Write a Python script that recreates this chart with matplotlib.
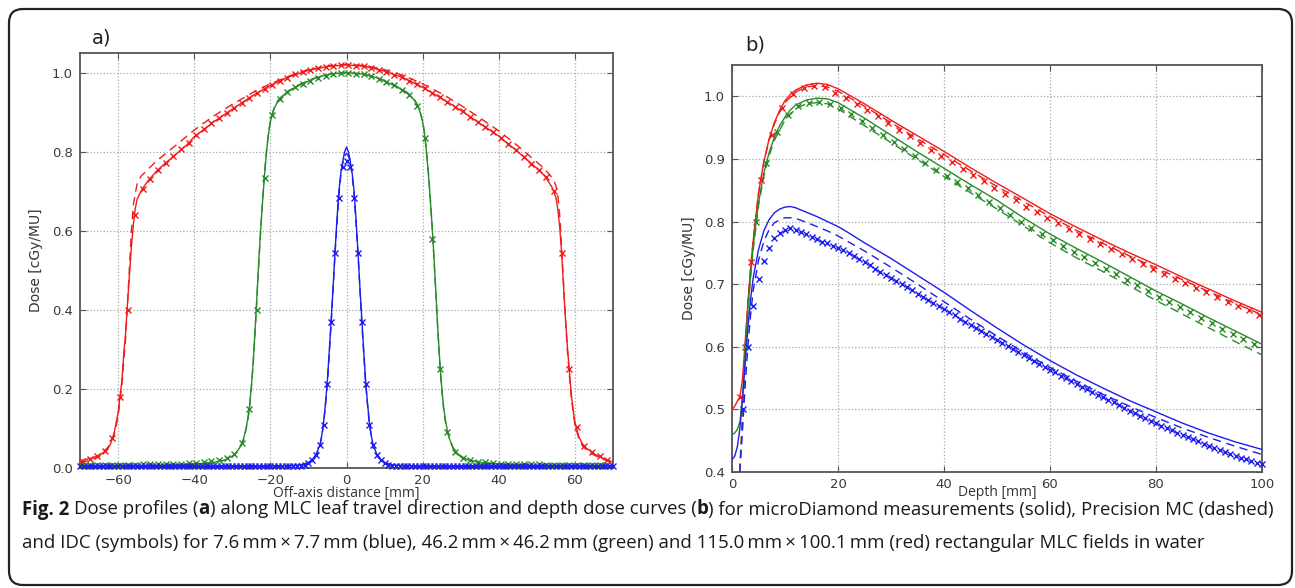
import numpy as np
import matplotlib
matplotlib.use('Agg')
import matplotlib.pyplot as plt
from matplotlib import font_manager
from matplotlib.patches import FancyBboxPatch
from matplotlib.transforms import IdentityTransform

# ---------------- data: panel a (off-axis profiles) ----------------
red_a_x = [-70, -67, -65, -63, -62, -61, -60, -59, -58.5, -58,
           -57.5, -57, -56.5, -56, -55.5, -55, -54, -53, -52, -50,
           -48, -45, -42, -40, -35, -30, -25, -20, -15, -10,
           -5, 0, 5, 10, 15, 20, 25, 30, 35, 40,
           45, 48, 50, 52, 54, 55, 55.5, 56, 56.5, 57,
           57.5, 58, 58.5, 59, 59.5, 60, 61, 62, 63, 65,
           67, 70]
red_a_solid = [0.018, 0.025, 0.032, 0.045, 0.06, 0.09, 0.14, 0.22, 0.29, 0.345,
               0.42, 0.49, 0.56, 0.615, 0.655, 0.68, 0.70, 0.715, 0.728, 0.75,
               0.768, 0.792, 0.817, 0.838, 0.875, 0.908, 0.94, 0.968, 0.99, 1.006,
               1.016, 1.02, 1.016, 1.004, 0.987, 0.963, 0.935, 0.905, 0.872, 0.84,
               0.80, 0.775, 0.758, 0.74, 0.71, 0.685, 0.655, 0.61, 0.545, 0.46,
               0.38, 0.31, 0.25, 0.19, 0.15, 0.115, 0.08, 0.06, 0.05, 0.036,
               0.026, 0.015]
red_a_dx = [-70, -65, -62, -61, -60, -59, -58, -57.5, -57, -56.5,
            -56, -55, -54, -52, -50, -45, -40, -35, -30, -25,
            -20, -15, -10, -5, 0, 5, 10, 15, 20, 25,
            30, 35, 40, 45, 50, 52, 54, 55, 55.5, 56,
            56.5, 57, 57.5, 58, 59, 60, 61, 62, 64, 66,
            70]
red_a_dashed = [0.012, 0.028, 0.06, 0.085, 0.13, 0.21, 0.33, 0.42, 0.51, 0.6,
                0.665, 0.72, 0.738, 0.757, 0.776, 0.815, 0.855, 0.89, 0.92, 0.948,
                0.972, 0.992, 1.008, 1.017, 1.021, 1.018, 1.008, 0.993, 0.972, 0.947,
                0.918, 0.886, 0.853, 0.815, 0.774, 0.757, 0.735, 0.715, 0.69, 0.64,
                0.56, 0.47, 0.38, 0.3, 0.18, 0.11, 0.075, 0.055, 0.038, 0.028,
                0.012]
red_a_mx = np.arange(-69.5, 69, 2.0)
red_a_idc = [0.017, 0.024, 0.030, 0.042, 0.075, 0.18, 0.40, 0.64, 0.705, 0.732,
             0.754, 0.772, 0.789, 0.806, 0.822, 0.842, 0.858, 0.872, 0.885, 0.898,
             0.911, 0.924, 0.937, 0.949, 0.959, 0.97, 0.979, 0.988, 0.996, 1.002,
             1.008, 1.012, 1.015, 1.018, 1.019,
             1.02, 1.018, 1.016, 1.012, 1.007, 1.002, 0.995, 0.989, 0.98, 0.971,
             0.961, 0.95, 0.938, 0.926, 0.914, 0.902, 0.889, 0.876, 0.863, 0.85,
             0.836, 0.82, 0.804, 0.786, 0.77, 0.754, 0.736, 0.70, 0.545, 0.25,
             0.105, 0.056, 0.04, 0.03, 0.02]

green_a_x = [-70, -60, -50, -40, -35, -32, -30, -29, -28, -27,
             -26.5, -26, -25.5, -25, -24.5, -24, -23.5, -23, -22.5, -22,
             -21.5, -21, -20.5, -20, -19.5, -19, -18, -17, -16, -14,
             -12, -10, -8, -6, -4, -2, 0, 2, 4, 6,
             8, 10, 12, 14, 16, 17, 18, 19, 19.5, 20,
             20.5, 21, 21.5, 22, 22.5, 23, 23.5, 24, 24.5, 25,
             25.5, 26, 26.5, 27, 28, 29, 30, 32, 35, 40,
             50, 60, 70]
green_a_solid = [0.005, 0.006, 0.007, 0.01, 0.014, 0.02, 0.03, 0.038, 0.052, 0.075,
                 0.095, 0.12, 0.155, 0.205, 0.27, 0.35, 0.44, 0.53, 0.61, 0.68,
                 0.745, 0.8, 0.845, 0.875, 0.895, 0.91, 0.928, 0.94, 0.948, 0.96,
                 0.97, 0.979, 0.987, 0.993, 0.997, 0.999, 1.0, 0.999, 0.997, 0.993,
                 0.987, 0.979, 0.97, 0.96, 0.948, 0.94, 0.928, 0.91, 0.895, 0.875,
                 0.845, 0.8, 0.745, 0.68, 0.61, 0.53, 0.44, 0.35, 0.27, 0.205,
                 0.155, 0.12, 0.095, 0.075, 0.052, 0.038, 0.03, 0.02, 0.014, 0.01,
                 0.007, 0.006, 0.005]
green_a_dx = [-70, -50, -40, -32, -30, -28, -27, -26, -25.5, -25,
              -24.5, -24, -23.5, -23, -22.5, -22, -21.5, -21, -20.5, -20,
              -19, -18, -16, -12, -8, -4, 0, 4, 8, 12,
              16, 18, 19, 20, 20.5, 21, 21.5, 22, 22.5, 23,
              23.5, 24, 24.5, 25, 25.5, 26, 27, 28, 30, 32,
              40, 50, 70]
green_a_dashed = [0.004, 0.006, 0.009, 0.019, 0.028, 0.05, 0.072, 0.115, 0.15, 0.2,
                  0.265, 0.345, 0.435, 0.525, 0.61, 0.685, 0.75, 0.805, 0.848, 0.878,
                  0.912, 0.93, 0.95, 0.972, 0.988, 0.997, 0.999, 0.997, 0.988, 0.972,
                  0.95, 0.93, 0.912, 0.878, 0.848, 0.805, 0.75, 0.685, 0.61, 0.525,
                  0.435, 0.345, 0.265, 0.2, 0.15, 0.115, 0.072, 0.05, 0.028, 0.019,
                  0.009, 0.006, 0.004]
green_a_mx = np.arange(-69.5, 69, 2.0)
green_a_idc = [0.008, 0.008, 0.008, 0.008, 0.008, 0.008, 0.008, 0.008, 0.009, 0.009,
               0.009, 0.01, 0.01, 0.011, 0.012, 0.013, 0.015, 0.017, 0.02, 0.025,
               0.035, 0.063, 0.15, 0.40, 0.735, 0.892, 0.934, 0.952, 0.963, 0.972,
               0.98, 0.988, 0.993, 0.997, 0.999, 0.999, 0.998, 0.996, 0.991, 0.985,
               0.977, 0.968, 0.957, 0.944, 0.917, 0.834, 0.58, 0.25, 0.09, 0.04,
               0.026, 0.019, 0.016, 0.014, 0.012, 0.011, 0.01, 0.01, 0.009, 0.009,
               0.009, 0.008, 0.008, 0.008, 0.008, 0.008, 0.008, 0.008, 0.008, 0.008]

blue_a_x = [-70, -40, -20, -15, -12, -10, -9, -8, -7, -6.5,
            -6, -5.5, -5, -4.5, -4, -3.5, -3, -2.5, -2, -1.5,
            -1, -0.5, 0, 0.5, 1, 1.5, 2, 2.5, 3, 3.5,
            4, 4.5, 5, 5.5, 6, 6.5, 7, 8, 9, 10,
            12, 15, 20, 40, 70]
blue_a_solid = [0.004, 0.004, 0.005, 0.006, 0.008, 0.014, 0.021, 0.034, 0.058, 0.082,
                0.117, 0.165, 0.225, 0.30, 0.38, 0.46, 0.55, 0.63, 0.70, 0.745,
                0.775, 0.80, 0.812, 0.80, 0.775, 0.745, 0.70, 0.63, 0.55, 0.46,
                0.38, 0.30, 0.225, 0.165, 0.117, 0.082, 0.058, 0.034, 0.021, 0.014,
                0.008, 0.006, 0.005, 0.004, 0.004]
blue_a_dx = [-70, -20, -12, -10, -8, -7, -6, -5, -4, -3,
             -2, -1.5, -1, -0.5, 0, 0.5, 1, 1.5, 2, 3,
             4, 5, 6, 7, 8, 10, 12, 20, 70]
blue_a_dashed = [0.003, 0.004, 0.007, 0.012, 0.03, 0.052, 0.11, 0.215, 0.37, 0.545,
                 0.69, 0.74, 0.77, 0.79, 0.795, 0.79, 0.77, 0.74, 0.69, 0.545,
                 0.37, 0.215, 0.11, 0.052, 0.03, 0.012, 0.007, 0.004, 0.003]
blue_a_mx = np.arange(-70, 71, 1.0)
blue_a_idc = [0.005, 0.005, 0.005, 0.005, 0.005, 0.005, 0.005, 0.005, 0.005, 0.005,
              0.005, 0.005, 0.005, 0.005, 0.005, 0.005, 0.005, 0.005, 0.005, 0.005,
              0.005, 0.005, 0.005, 0.005, 0.005, 0.005, 0.005, 0.005, 0.005, 0.005,
              0.005, 0.005, 0.005, 0.005, 0.005, 0.005, 0.005, 0.005, 0.005, 0.005,
              0.005, 0.005, 0.005, 0.005, 0.005, 0.005, 0.005, 0.005, 0.005, 0.005,
              0.005, 0.005, 0.005, 0.005, 0.005, 0.005, 0.005, 0.005,
              0.006, 0.008, 0.012, 0.019, 0.032, 0.057, 0.11, 0.213, 0.369, 0.544,
              0.682, 0.761, 0.778, 0.761, 0.682, 0.544, 0.369, 0.213, 0.11, 0.057,
              0.032, 0.019, 0.012, 0.008, 0.006,
              0.005, 0.005, 0.005, 0.005, 0.005, 0.005, 0.005, 0.005, 0.005, 0.005,
              0.005, 0.005, 0.005, 0.005, 0.005, 0.005, 0.005, 0.005, 0.005, 0.005,
              0.005, 0.005, 0.005, 0.005, 0.005, 0.005, 0.005, 0.005, 0.005, 0.005,
              0.005, 0.005, 0.005, 0.005, 0.005, 0.005, 0.005, 0.005, 0.005, 0.005,
              0.005, 0.005, 0.005, 0.005, 0.005, 0.005, 0.005, 0.005, 0.005, 0.005,
              0.005, 0.005, 0.005, 0.005, 0.005, 0.005, 0.005, 0.005]

# ---------------- data: panel b (depth dose) ----------------
red_b_x = [0, 0.5, 1, 1.5, 2, 2.5, 3, 3.5, 4, 5,
           6, 7, 8, 9, 10, 11, 12, 14, 16, 18,
           20, 25, 30, 35, 40, 45, 50, 55, 60, 65,
           70, 75, 80, 85, 90, 95, 100]
red_b_solid = [0.50, 0.505, 0.513, 0.52, 0.55, 0.61, 0.67, 0.725, 0.77, 0.845,
               0.895, 0.932, 0.958, 0.978, 0.993, 1.003, 1.01, 1.018, 1.021, 1.019,
               1.012, 0.988, 0.962, 0.937, 0.912, 0.886, 0.861, 0.837, 0.8125, 0.791,
               0.77, 0.75, 0.731, 0.711, 0.692, 0.673, 0.655]
red_b_dx = [1.45, 2, 2.5, 3, 3.5, 4, 5, 6, 7, 8,
            9, 10, 12, 14, 16, 18, 20, 25, 30, 35,
            40, 45, 50, 55, 60, 65, 70, 75, 80, 85,
            90, 95, 100]
red_b_dashed = [0.40, 0.50, 0.60, 0.67, 0.725, 0.77, 0.845, 0.895, 0.93, 0.956,
                0.975, 0.99, 1.007, 1.015, 1.017, 1.015, 1.008, 0.984, 0.958, 0.932,
                0.907, 0.881, 0.856, 0.832, 0.808, 0.786, 0.765, 0.745, 0.726, 0.707,
                0.688, 0.669, 0.651]
red_b_mx = np.arange(1.5, 100, 2.0)
red_b_idc = [0.52, 0.736, 0.866, 0.938, 0.982, 1.004, 1.013, 1.016, 1.015,
             1.006, 0.998, 0.988, 0.978, 0.968, 0.957, 0.946, 0.936, 0.926, 0.915,
             0.905, 0.895, 0.884, 0.874, 0.864, 0.854, 0.844, 0.834, 0.824, 0.815,
             0.806, 0.797, 0.788, 0.78, 0.772, 0.764, 0.756, 0.748, 0.74, 0.732,
             0.725, 0.717, 0.709, 0.702, 0.694, 0.687, 0.68, 0.672, 0.665, 0.658,
             0.65]

green_b_x = [0, 0.5, 1, 1.5, 2, 2.5, 3, 3.5, 4, 5,
             6, 7, 8, 9, 10, 11, 12, 14, 16, 18,
             20, 25, 30, 35, 40, 45, 50, 55, 60, 65,
             70, 75, 80, 85, 90, 95, 100]
green_b_solid = [0.46, 0.462, 0.468, 0.48, 0.52, 0.59, 0.66, 0.715, 0.76, 0.83,
                 0.877, 0.91, 0.935, 0.953, 0.967, 0.978, 0.986, 0.994, 0.997, 0.996,
                 0.99, 0.965, 0.938, 0.911, 0.885, 0.859, 0.834, 0.806, 0.78, 0.757,
                 0.735, 0.712, 0.689, 0.668, 0.646, 0.625, 0.604]
green_b_dx = [1.45, 2, 2.5, 3, 3.5, 4, 5, 6, 7, 8,
              10, 12, 14, 16, 18, 20, 25, 30, 35, 40,
              45, 50, 55, 60, 65, 70, 75, 80, 85, 90,
              95, 100]
green_b_dashed = [0.40, 0.48, 0.58, 0.655, 0.71, 0.755, 0.825, 0.872, 0.905, 0.93,
                  0.962, 0.98, 0.988, 0.99, 0.988, 0.98, 0.953, 0.926, 0.899, 0.872,
                  0.846, 0.82, 0.793, 0.766, 0.742, 0.72, 0.697, 0.674, 0.652, 0.63,
                  0.608, 0.587]
green_b_mx = np.arange(2.5, 99, 2.0)
green_b_idc = [0.60, 0.80, 0.893, 0.943, 0.97, 0.984, 0.99, 0.991, 0.988, 0.981,
               0.971, 0.96, 0.949, 0.938, 0.927, 0.916, 0.905, 0.894, 0.883, 0.873,
               0.863, 0.853, 0.842, 0.832, 0.822, 0.811, 0.8, 0.79, 0.78, 0.77,
               0.761, 0.752, 0.743, 0.734, 0.725, 0.716, 0.707, 0.698, 0.689, 0.68,
               0.672, 0.663, 0.655, 0.646, 0.638, 0.629, 0.621, 0.613, 0.605]

blue_b_x = [0, 0.5, 1, 1.5, 2, 2.5, 3, 3.5, 4, 5,
            6, 7, 8, 9, 10, 11, 12, 14, 16, 18,
            20, 22, 25, 30, 35, 40, 45, 50, 55, 60,
            65, 70, 75, 80, 85, 90, 95, 100]
blue_b_solid = [0.42, 0.425, 0.44, 0.47, 0.52, 0.575, 0.63, 0.675, 0.71, 0.755,
                0.785, 0.803, 0.814, 0.82, 0.823, 0.824, 0.822, 0.815, 0.808, 0.80,
                0.792, 0.782, 0.766, 0.741, 0.714, 0.687, 0.658, 0.63, 0.603, 0.578,
                0.555, 0.534, 0.514, 0.496, 0.478, 0.462, 0.448, 0.436]
blue_b_dx = [1.45, 2, 2.5, 3, 3.5, 4, 5, 6, 7, 8,
             9, 10, 11, 12, 14, 16, 18, 20, 25, 30,
             35, 40, 45, 50, 55, 60, 65, 70, 75, 80,
             85, 90, 95, 100]
blue_b_dashed = [0.40, 0.47, 0.54, 0.60, 0.65, 0.69, 0.738, 0.768, 0.787, 0.798,
                 0.803, 0.806, 0.806, 0.805, 0.799, 0.792, 0.785, 0.777, 0.753, 0.727,
                 0.700, 0.672, 0.644, 0.617, 0.591, 0.567, 0.545, 0.524, 0.505, 0.487,
                 0.47, 0.455, 0.441, 0.428]
blue_b_mx = np.arange(2, 101, 1.0)
blue_b_idc = [0.50, 0.60, 0.665, 0.708, 0.737, 0.758, 0.773, 0.782, 0.787, 0.789,
              0.787, 0.784, 0.780, 0.776, 0.772, 0.768, 0.765, 0.761, 0.758,
              0.754, 0.749, 0.745, 0.740, 0.735, 0.730, 0.725, 0.720, 0.715, 0.710,
              0.705, 0.700, 0.695, 0.690, 0.685, 0.680, 0.675, 0.670, 0.665, 0.660,
              0.655, 0.650, 0.645, 0.640, 0.635, 0.630, 0.625, 0.620, 0.615, 0.611,
              0.606, 0.601, 0.596, 0.591, 0.587, 0.582, 0.577, 0.572, 0.568, 0.563,
              0.559, 0.554, 0.550, 0.545, 0.541, 0.536, 0.532, 0.528, 0.523, 0.519,
              0.515, 0.511, 0.507, 0.502, 0.498, 0.494, 0.490, 0.486, 0.482, 0.478,
              0.474, 0.470, 0.467, 0.463, 0.459, 0.456, 0.452, 0.449, 0.445, 0.442,
              0.439, 0.435, 0.432, 0.429, 0.426, 0.423, 0.420, 0.417, 0.415, 0.412]

a_xticks = [-60, -40, -20, 0, 20, 40, 60]
a_yticks = [0.0, 0.2, 0.4, 0.6, 0.8, 1.0]
b_xticks = [0, 20, 40, 60, 80, 100]
b_yticks = [0.4, 0.5, 0.6, 0.7, 0.8, 0.9, 1.0]

caption_line1 = [("Fig. 2", True, True), ("Dose profiles (", False, False), ("a", True, False),
                 (") along MLC leaf travel direction and depth dose curves (", False, False),
                 ("b", True, False),
                 (") for microDiamond measurements (solid), Precision MC (dashed)", False, False)]
caption_line2 = [("and IDC (symbols) for 7.6\u2009mm\u2009\u00d7\u20097.7\u2009mm (blue), "
                  "46.2\u2009mm\u2009\u00d7\u200946.2\u2009mm (green) and "
                  "115.0\u2009mm\u2009\u00d7\u2009100.1\u2009mm (red) rectangular MLC fields in water",
                  False, False)]

# ---------------- figure ----------------
W, H = 1295, 588
fig = plt.figure(figsize=(W / 100, H / 100), dpi=100)
fig.patch.set_facecolor('white')

avail = {f.name for f in font_manager.fontManager.ttflist}
CAP_FONT = ['Open Sans', 'DejaVu Sans'] if 'Open Sans' in avail else ['DejaVu Sans']

RED, GREEN, BLUE = '#f01c1c', '#2a8a2a', '#1c1cee'
DASH = (0, (6, 4))


def style_axes(ax):
    for s in ax.spines.values():
        s.set_color('#555555')
        s.set_linewidth(1.3)
    ax.tick_params(direction='in', length=4, width=0.8, top=True, right=True,
                   color='#555555', labelcolor='#3a3a3a', labelsize=9.5)
    ax.tick_params(axis='x', pad=4)
    ax.tick_params(axis='y', pad=5)
    ax.grid(True, linestyle=':', color='#a8a8a8', linewidth=0.9)
    ax.set_axisbelow(True)


def draw_series(ax, col, xs, ys, xd, yd, xm, ym, ms):
    ax.plot(xs, ys, '-', color=col, lw=1.0, zorder=3)
    ax.plot(xd, yd, color=col, lw=1.0, linestyle=DASH, zorder=3)
    ax.plot(xm, ym, 'x', color=col, ms=ms, mew=1.0, zorder=4, clip_on=False)


ax_a = fig.add_axes([80 / W, 1 - 468 / H, 533 / W, 415 / H])
style_axes(ax_a)
draw_series(ax_a, RED, red_a_x, red_a_solid, red_a_dx, red_a_dashed, red_a_mx, red_a_idc, 4.5)
draw_series(ax_a, GREEN, green_a_x, green_a_solid, green_a_dx, green_a_dashed, green_a_mx, green_a_idc, 4.5)
draw_series(ax_a, BLUE, blue_a_x, blue_a_solid, blue_a_dx, blue_a_dashed, blue_a_mx, blue_a_idc, 4.0)
ax_a.set_xlim(-70, 70)
ax_a.set_ylim(0, 1.05)
ax_a.set_xticks(a_xticks)
ax_a.set_yticks(a_yticks)
ax_a.set_yticklabels([f"{v:.1f}" for v in a_yticks])

ax_b = fig.add_axes([732 / W, 1 - 472 / H, 530 / W, 407 / H])
style_axes(ax_b)
draw_series(ax_b, RED, red_b_x, red_b_solid, red_b_dx, red_b_dashed, red_b_mx, red_b_idc, 4.5)
draw_series(ax_b, GREEN, green_b_x, green_b_solid, green_b_dx, green_b_dashed, green_b_mx, green_b_idc, 4.5)
draw_series(ax_b, BLUE, blue_b_x, blue_b_solid, blue_b_dx, blue_b_dashed, blue_b_mx, blue_b_idc, 4.0)
ax_b.set_xlim(0, 100)
ax_b.set_ylim(0.4, 1.05)
ax_b.set_xticks(b_xticks)
ax_b.set_yticks(b_yticks)
ax_b.set_yticklabels([f"{v:.1f}" for v in b_yticks])

# panel letters
fig.text(92 / W, 1 - 38 / H, "a)", fontsize=14, color='#222222', ha='left', va='center')
fig.text(745 / W, 1 - 45 / H, "b)", fontsize=14, color='#222222', ha='left', va='center')

# axis labels
fig.text(36 / W, 1 - 260 / H, "Dose [cGy/MU]", rotation=90, fontsize=10, color='#333333',
         ha='center', va='center')
fig.text(689 / W, 1 - 268 / H, "Dose [cGy/MU]", rotation=90, fontsize=10, color='#333333',
         ha='center', va='center')
fig.text(346.5 / W, 1 - 497.5 / H, "Off-axis distance [mm]", fontsize=10, family=CAP_FONT,
         color='#333333', ha='center', va='baseline')
fig.text(997 / W, 1 - 496.5 / H, "Depth [mm]", fontsize=10, family=CAP_FONT,
         color='#333333', ha='center', va='baseline')

# caption with mixed bold
renderer = fig.canvas.get_renderer()


def space_width(size):
    t1 = fig.text(0, 0, "a a", fontsize=size, family=CAP_FONT)
    t2 = fig.text(0, 0, "aa", fontsize=size, family=CAP_FONT)
    w = t1.get_window_extent(renderer).width - t2.get_window_extent(renderer).width
    t1.remove()
    t2.remove()
    return w


def rich_line(pieces, x0, ybase, size):
    sp = space_width(size)
    x = x0
    objs = []
    for txt, bold, gap in pieces:
        t = fig.text(x / W, 1 - ybase / H, txt, fontsize=size, family=CAP_FONT,
                     fontweight='bold' if bold else 'normal', ha='left', va='baseline',
                     color='#1a1a1a')
        bb = t.get_window_extent(renderer)
        x = bb.x1 + (sp if gap else 0)
        objs.append(t)
    return objs, x - x0


target = 1278 - 22
cap_size = 12.0
for _ in range(4):
    objs, w = rich_line(caption_line1, 22, 514, cap_size)
    for o in objs:
        o.remove()
    cap_size = cap_size * target / w
rich_line(caption_line1, 22, 514.5, cap_size)
rich_line(caption_line2, 22, 548.5, cap_size)

# rounded frame
frame = FancyBboxPatch((9, H - 585), 1283, 576, boxstyle="round,pad=0,rounding_size=14",
                       transform=IdentityTransform(), fill=False, ec='#222222', lw=1.6)
fig.patches.append(frame)

fig.savefig('out.png', dpi=100, facecolor='white')
